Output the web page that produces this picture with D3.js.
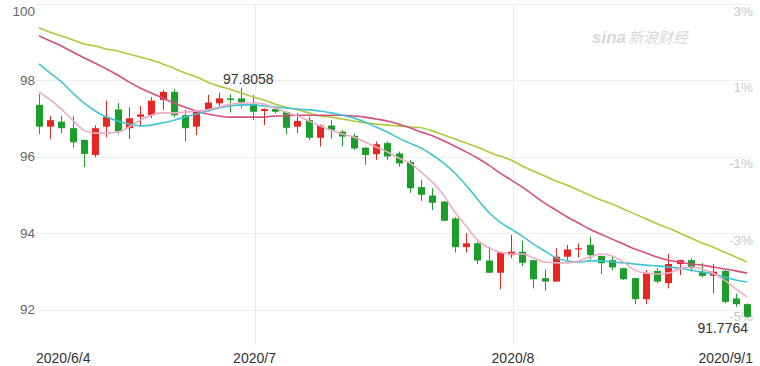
<!DOCTYPE html>
<html><head><meta charset="utf-8">
<script src="https://cdn.jsdelivr.net/npm/d3@7"></script>
<style>html,body{margin:0;padding:0;background:#fff;}svg{display:block;}</style>
</head><body><svg id="c" width="760" height="366"></svg>
<script>
const dates = ["6/4","6/5","6/8","6/9","6/10","6/11","6/12","6/15","6/16","6/17","6/18","6/19","6/22","6/23","6/24","6/25","6/26","6/29","6/30",
"7/1","7/2","7/3","7/6","7/7","7/8","7/9","7/10","7/13","7/14","7/15","7/16","7/17","7/20","7/21","7/22","7/23","7/24","7/27","7/28","7/29","7/30","7/31",
"8/3","8/4","8/5","8/6","8/7","8/10","8/11","8/12","8/13","8/14","8/17","8/18","8/19","8/20","8/21","8/24","8/25","8/26","8/27","8/28","8/31","9/1"];
const open  = [97.35,96.78,96.91,96.74,96.43,96.04,96.78,97.23,96.74,97.04,97.08,97.48,97.69,97.08,96.78,97.23,97.39,97.52,97.52,97.37,97.19,97.24,97.16,96.78,96.95,96.49,96.81,96.65,96.54,96.23,96.06,96.35,96.08,95.86,95.20,94.98,94.82,94.38,93.63,93.73,93.28,92.96,93.42,93.51,93.29,92.82,92.73,93.38,93.57,93.69,93.40,93.29,93.08,92.82,92.27,93.01,92.69,93.19,93.29,92.99,92.88,93.01,92.29,92.14];
const high  = [97.63,97.06,97.06,97.06,96.45,96.82,97.46,97.40,97.29,97.32,97.55,97.74,97.76,97.22,97.22,97.61,97.67,97.63,97.8058,97.61,97.26,97.29,97.17,97.13,97.04,96.84,96.95,96.69,96.60,96.24,96.39,96.39,96.13,95.91,95.39,95.17,94.83,94.41,93.99,93.77,93.64,93.51,93.95,93.80,93.30,93.05,93.60,93.69,93.73,93.90,93.41,93.38,93.09,92.83,93.03,93.08,93.45,93.30,93.34,93.21,93.19,93.03,92.42,92.16];
const low   = [96.59,96.46,96.61,96.23,95.73,95.98,96.50,96.59,96.46,96.82,97.00,97.22,97.02,96.39,96.56,97.17,97.30,97.15,97.26,96.95,96.82,97.13,96.58,96.61,96.43,96.26,96.47,96.26,96.17,95.78,95.91,95.91,95.73,95.05,94.84,94.60,94.31,93.49,93.49,93.19,92.95,92.53,93.34,93.14,92.55,92.49,92.72,93.29,93.36,93.31,92.93,93.03,92.77,92.14,92.14,92.69,92.55,92.90,92.99,92.84,92.42,92.16,92.07,91.7764];
const close = [96.78,96.95,96.74,96.37,96.07,96.74,97.04,96.65,97.00,97.10,97.46,97.69,97.08,96.74,97.17,97.41,97.52,97.48,97.41,97.17,97.24,97.17,96.75,96.93,96.49,96.81,96.69,96.52,96.21,96.04,96.32,96.00,95.82,95.17,95.00,94.79,94.32,93.63,93.73,93.28,92.96,93.49,93.51,93.22,92.79,92.73,93.38,93.57,93.60,93.42,93.21,93.10,92.79,92.27,92.95,92.73,93.19,93.29,93.08,92.88,92.99,92.20,92.14,91.81];
const ma5  = [97.69,97.48,97.24,96.95,96.69,96.61,96.61,96.64,96.77,96.95,97.08,97.14,97.14,97.16,97.19,97.22,97.29,97.37,97.40,97.40,97.37,97.27,97.16,97.06,96.93,96.80,96.69,96.59,96.51,96.38,96.25,96.12,95.96,95.83,95.59,95.33,94.99,94.55,94.18,93.82,93.61,93.50,93.45,93.45,93.35,93.24,93.22,93.22,93.27,93.37,93.45,93.40,93.24,93.03,92.95,92.93,92.95,93.06,93.11,93.06,92.95,92.77,92.54,92.33];
const ma10 = [98.42,98.18,97.95,97.66,97.40,97.19,97.03,96.93,96.85,96.80,96.82,96.88,96.95,97.03,97.11,97.19,97.27,97.32,97.35,97.35,97.32,97.29,97.27,97.24,97.22,97.19,97.14,97.08,97.01,96.90,96.77,96.64,96.48,96.35,96.22,96.04,95.83,95.57,95.25,94.89,94.55,94.29,94.10,93.92,93.71,93.53,93.35,93.27,93.24,93.27,93.27,93.24,93.22,93.19,93.16,93.14,93.11,93.08,93.03,92.98,92.93,92.85,92.77,92.72];
const ma20 = [99.15,99.02,98.89,98.73,98.58,98.44,98.29,98.13,97.95,97.79,97.66,97.53,97.40,97.29,97.19,97.11,97.06,97.03,97.03,97.03,97.03,97.06,97.06,97.08,97.08,97.08,97.08,97.08,97.06,97.03,96.98,96.93,96.85,96.75,96.64,96.54,96.41,96.27,96.12,95.96,95.78,95.57,95.39,95.20,94.99,94.78,94.60,94.42,94.26,94.10,93.97,93.84,93.71,93.58,93.48,93.37,93.29,93.24,93.19,93.16,93.11,93.06,93.01,92.95];
const ma30 = [99.36,99.25,99.15,99.05,98.94,98.89,98.81,98.76,98.68,98.60,98.52,98.42,98.31,98.18,98.08,97.95,97.84,97.76,97.66,97.56,97.48,97.37,97.29,97.22,97.14,97.06,97.03,96.98,96.93,96.88,96.85,96.82,96.80,96.77,96.75,96.67,96.56,96.46,96.35,96.25,96.12,96.01,95.91,95.75,95.62,95.49,95.36,95.25,95.12,94.99,94.86,94.76,94.63,94.50,94.37,94.24,94.13,94.00,93.87,93.74,93.63,93.50,93.37,93.24];
const leftTicks = [100, 98, 96, 94, 92];
const rightTicks = ["3%", "1%", "-1%", "-3%", "-5%"];
const xLabels = [{d:"6/4", t:"2020/6/4"}, {d:"7/1", t:"2020/7"}, {d:"8/3", t:"2020/8"}, {d:"9/1", t:"2020/9/1"}];
const maxLabel = "97.8058", minLabel = "91.7764";

const svg = d3.select("#c");
const W = 760, H = 366;
const x = d3.scalePoint().domain(dates).range([39, 747]);
const y = d3.scaleLinear().domain([92, 100]).range([309.5, 3.5]);
const FONT = "Arial, 'Liberation Sans', sans-serif";

// horizontal grid
svg.append("g").selectAll("line").data(leftTicks).join("line")
  .attr("x1", 36).attr("x2", 752)
  .attr("y1", d => Math.round(y(d)) + 0.5).attr("y2", d => Math.round(y(d)) + 0.5)
  .attr("stroke", "#efefef").attr("stroke-width", 1);
// vertical grid (month starts)
svg.append("g").selectAll("line").data(["7/1", "8/3"]).join("line")
  .attr("x1", d => Math.round(x(d)) + 2.5).attr("x2", d => Math.round(x(d)) + 2.5)
  .attr("y1", 4).attr("y2", 345)
  .attr("stroke", "#ececec").attr("stroke-width", 1);

// watermark
const wm = svg.append("text").attr("x", 592).attr("y", 43).attr("fill", "#d8d8d8")
  .attr("font-family", FONT);
wm.append("tspan").text("sina").attr("font-size", 17).attr("font-style", "italic").attr("font-weight", "bold");
wm.append("tspan").text("新浪财经").attr("font-size", 15).attr("font-style", "italic")
  .attr("font-family", "'Noto Sans CJK SC', sans-serif").attr("dx", 2);

// left axis labels
svg.append("g").selectAll("text").data(leftTicks).join("text")
  .attr("x", 35).attr("y", d => Math.max(y(d), 11))
  .attr("dy", "0.36em").attr("text-anchor", "end")
  .attr("font-family", FONT).attr("font-size", 13.5).attr("fill", "#666")
  .text(d => d);
// right axis labels
svg.append("g").selectAll("text").data(rightTicks).join("text")
  .attr("x", 753).attr("y", (d, i) => Math.max(y(leftTicks[i]) + 7, 11.5))
  .attr("dy", "0.36em").attr("text-anchor", "end")
  .attr("font-family", FONT).attr("font-size", 13.5).attr("fill", "#c8c8c8")
  .text(d => d);

// x labels
svg.append("g").selectAll("text").data(xLabels).join("text")
  .attr("x", (d, i) => i === 0 ? x(d.d) - 3 : (i === xLabels.length - 1 ? 753 : x(d.d) + 2))
  .attr("y", 363)
  .attr("text-anchor", (d, i) => i === 0 ? "start" : (i === xLabels.length - 1 ? "end" : "middle"))
  .attr("font-family", FONT).attr("font-size", 14).attr("fill", "#333")
  .text(d => d.t);

// candles
const UP = "#e8251f", DOWN = "#1b9e2b";
const cd = dates.map((d, i) => ({d, o: open[i], h: high[i], l: low[i], c: close[i]}));
const cg = svg.append("g");
cg.selectAll("line").data(cd).join("line")
  .attr("x1", d => Math.round(x(d.d)) + 0.5).attr("x2", d => Math.round(x(d.d)) + 0.5)
  .attr("y1", d => y(d.h)).attr("y2", d => y(d.l))
  .attr("stroke", d => d.c >= d.o ? UP : DOWN).attr("stroke-width", 1);
cg.selectAll("rect").data(cd).join("rect")
  .attr("x", d => Math.round(x(d.d)) - 3)
  .attr("width", 7)
  .attr("y", d => y(Math.max(d.o, d.c)))
  .attr("height", d => Math.max(1.2, Math.abs(y(d.o) - y(d.c))))
  .attr("fill", d => d.c >= d.o ? UP : DOWN);

// moving averages
const line = d3.line().x((v, i) => x(dates[i])).y(v => y(v)).curve(d3.curveMonotoneX);
const mas = [{v: ma30, c: "#b3c63e"}, {v: ma20, c: "#d44f80"}, {v: ma10, c: "#40c4cf"}, {v: ma5, c: "#efaac6"}];
svg.append("g").selectAll("path").data(mas).join("path")
  .attr("d", d => line(d.v)).attr("fill", "none")
  .attr("stroke", d => d.c).attr("stroke-width", 1.6);

// max / min labels
const iMax = high.indexOf(d3.max(high)), iMin = low.indexOf(d3.min(low));
svg.append("text").attr("x", x(dates[iMax]) + 7).attr("y", y(high[iMax]) - 3)
  .attr("text-anchor", "middle").attr("font-family", FONT).attr("font-size", 14).attr("fill", "#333")
  .text(maxLabel);
svg.append("text").attr("x", x(dates[iMin]) + 1).attr("y", y(low[iMin]) + 15)
  .attr("text-anchor", "end").attr("font-family", FONT).attr("font-size", 14).attr("fill", "#333")
  .text(minLabel);
</script></body></html>
